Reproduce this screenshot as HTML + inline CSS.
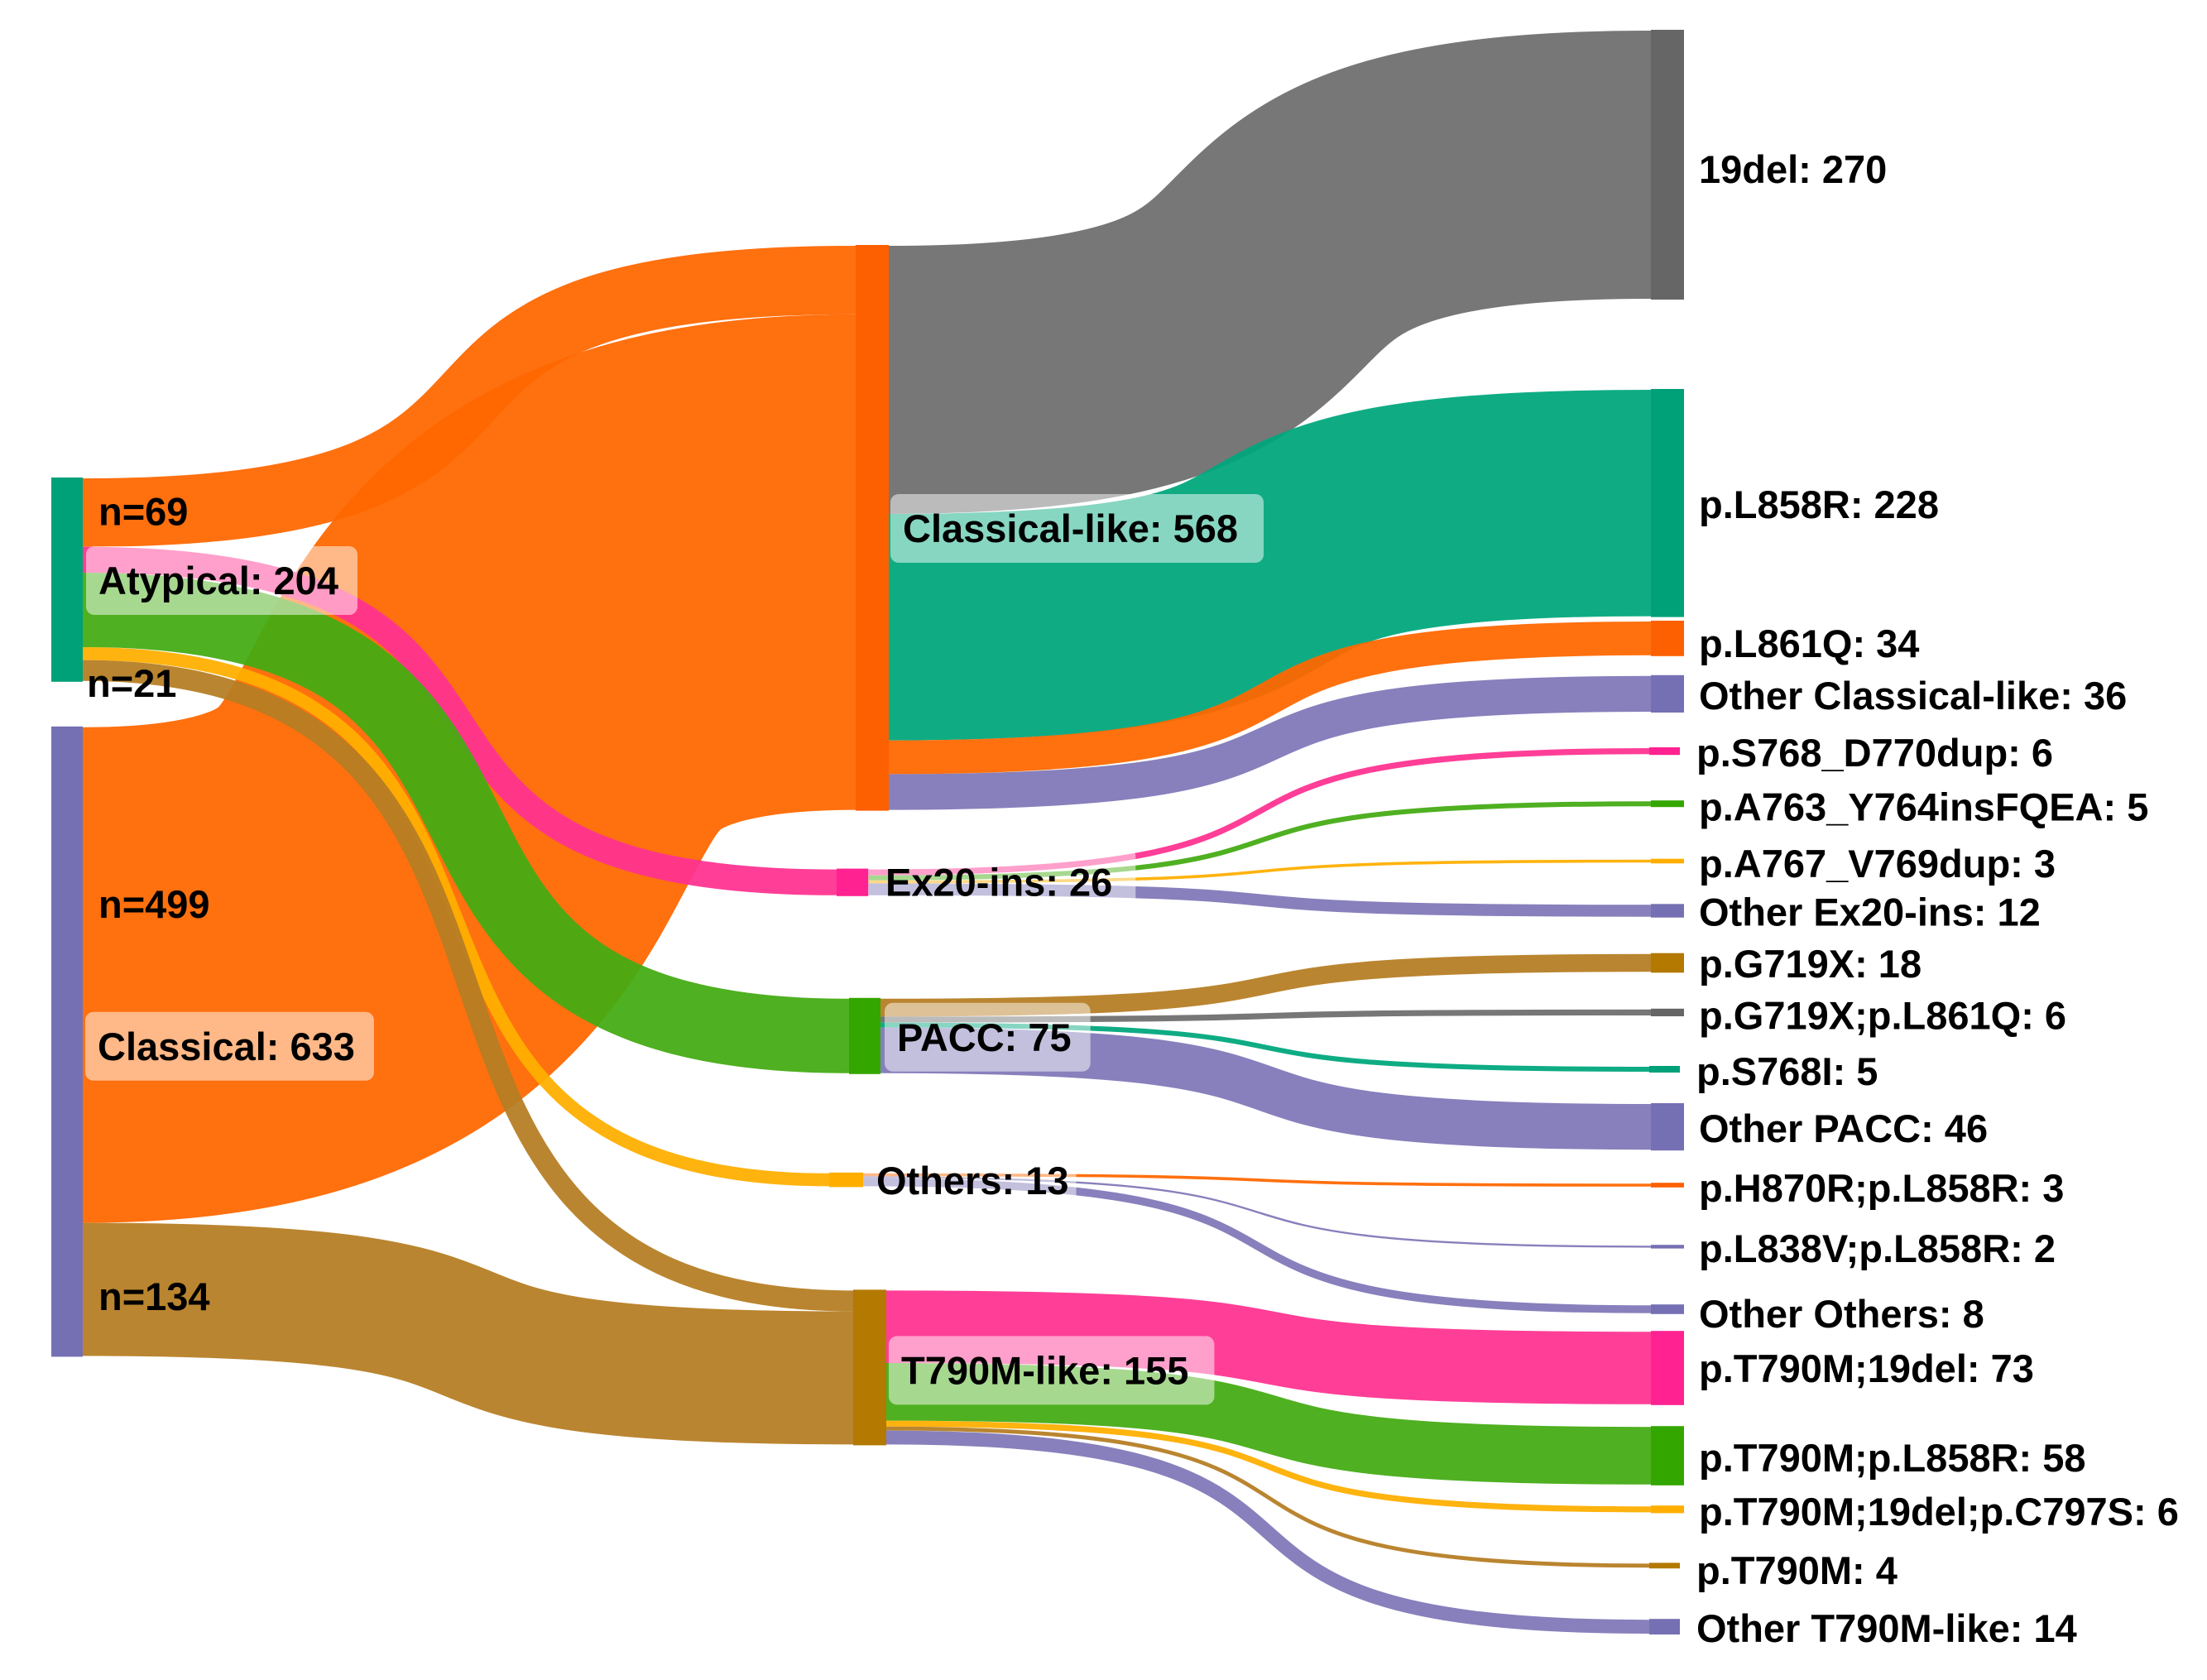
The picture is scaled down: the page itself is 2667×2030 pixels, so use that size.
<!DOCTYPE html>
<html>
<head>
<meta charset="utf-8">
<title>EGFR mutation Sankey</title>
<style>
html,body{margin:0;padding:0;background:#fff;}
svg{display:block;}
text{font-family:"Liberation Sans",sans-serif;font-size:47px;font-weight:bold;fill:#000;}
</style>
</head>
<body>
<svg id="chart" width="2667" height="2030" viewBox="0 0 2667 2030" xmlns="http://www.w3.org/2000/svg">
<g id="links"></g>
<g id="nodes"></g>
<g id="labels"></g>
</svg>
<script>
// ---- data ----
const nodeNames = ['Atypical','Classical','Classical-like','Ex20-ins','PACC','Others','T790M-like','19del','p.L858R','p.L861Q','Other Classical-like','p.S768_D770dup','p.A763_Y764insFQEA','p.A767_V769dup','Other Ex20-ins','p.G719X','p.G719X;p.L861Q','p.S768I','Other PACC','p.H870R;p.L858R','p.L838V;p.L858R','Other Others','p.T790M;19del','p.T790M;p.L858R','p.T790M;19del;p.C797S','p.T790M','Other T790M-like'];
const nodeValues = [204,633,568,26,75,13,155,270,228,34,36,6,5,3,12,18,6,5,46,3,2,8,73,58,6,4,14];
const linkSources = ['Atypical','Classical','Atypical','Atypical','Atypical','Atypical','Classical','Classical-like','Classical-like','Classical-like','Classical-like','Ex20-ins','Ex20-ins','Ex20-ins','Ex20-ins','PACC','PACC','PACC','PACC','Others','Others','Others','T790M-like','T790M-like','T790M-like','T790M-like','T790M-like'];
const linkTargets = ['Classical-like','Classical-like','Ex20-ins','PACC','Others','T790M-like','T790M-like','19del','p.L858R','p.L861Q','Other Classical-like','p.S768_D770dup','p.A763_Y764insFQEA','p.A767_V769dup','Other Ex20-ins','p.G719X','p.G719X;p.L861Q','p.S768I','Other PACC','p.H870R;p.L858R','p.L838V;p.L858R','Other Others','p.T790M;19del','p.T790M;p.L858R','p.T790M;19del;p.C797S','p.T790M','Other T790M-like'];
const linkValues = [69,499,26,75,13,21,134,270,228,34,36,6,5,3,12,18,6,5,46,3,2,8,73,58,6,4,14];

// ---- layout and style (separate from the data) ----
const PX_PER_VALUE = 1.2;
const NODE_PAD = 2;
const LINK_OPACITY = 0.94;
const CONTROL_REACH = 0.72;
const ORANGE='#fd6000',PINK='#ff2290',GREEN='#33a600',YELLOW='#ffae00',BROWN='#b37900',PURPLE='#7570b3',TEAL='#00a078',GRAY='#666666';
const nodeColors = [TEAL,PURPLE,ORANGE,PINK,GREEN,YELLOW,BROWN,GRAY,TEAL,ORANGE,PURPLE,PINK,GREEN,YELLOW,PURPLE,BROWN,GRAY,TEAL,PURPLE,ORANGE,PURPLE,PURPLE,PINK,GREEN,YELLOW,BROWN,PURPLE];
const linkTint = {};
linkTint[ORANGE]='#ff6700';
linkTint[PINK]='#ff3291';
linkTint[GREEN]='#44ab13';
linkTint[YELLOW]='#ffae00';
linkTint[BROWN]='#b67d23';
linkTint[PURPLE]='#8078b8';
linkTint[TEAL]='#00a77c';
linkTint[GRAY]='#6e6e6e';
const nodeLeft = [62,62,1034,1011,1026,1002,1031,1995,1995,1995,1995,1993,1995,1995,1995,1995,1995,1993,1995,1995,1995,1995,1995,1995,1995,1993,1993];
const nodeWidth = [38,38,40,38.5,38,41,40,40,40,40,40,37,40,40,40,40,40,37,40,40,40,40,40,40,40,37,37];
const nodeColumnStart = [true,false,true,false,false,false,false,true,false,false,false,false,false,false,false,false,false,false,false,false,false,false,false,false,false,false,false];
const nodeGapAbove = [577,54,296,70,123,119,124,36,108,4.4,23,42,55,62.5,49,43,43.5,60,37,39,69.4,67.6,20.4,25.4,24.4,60,61];
const labelLeft = [119,118,1091,1070,1084,1059,1089,2053,2053,2053,2053,2050,2053,2053,2053,2053,2053,2050,2053,2053,2053,2053,2053,2053,2053,2050,2050];
const labelDrop = [141,403,359,33,64,26,114,185,156,44,41,23,24.5,22.5,26,29.4,24.5,23,47,23,21,28,62,55,24,25.5,28];
const labelBoxExtra = [38,38,46,49,38,25,46];
const labelBoxInset = [15,15,15,21,15,16,15];
const countLabelLink = [0,5,1,6];
const countLabelLeft = [119,105,119,119];
const countLabelDrop = [15,32,-69,25];

const SVG_NS = 'http://www.w3.org/2000/svg';
const linksGroup = document.getElementById('links');
const nodesGroup = document.getElementById('nodes');
const labelsGroup = document.getElementById('labels');

function slug(s){ return s.toLowerCase().replace(/[^a-z0-9]+/g,'-').replace(/^-|-$/g,''); }
function valueToPx(v){ return v * PX_PER_VALUE; }
function nodeHeight(i){ return valueToPx(nodeValues[i]) + NODE_PAD; }

// Node tops stack down each column from their value-driven heights.
const nodeTop = [];
nodeNames.forEach(function(_, i){
  nodeTop[i] = nodeColumnStart[i] ? nodeGapAbove[i] : nodeTop[i-1] + nodeHeight(i-1) + nodeGapAbove[i];
});

// Links stack inside their source and target nodes, in array order.
const sourceCursor = nodeNames.map(function(_, i){ return nodeTop[i] + NODE_PAD/2; });
const targetCursor = nodeNames.map(function(_, i){ return nodeTop[i] + NODE_PAD/2; });
const linkCenterStart = [];

linkValues.forEach(function(v, i){
  const s = nodeNames.indexOf(linkSources[i]);
  const t = nodeNames.indexOf(linkTargets[i]);
  const w = valueToPx(v);
  const x0 = nodeLeft[s] + nodeWidth[s];
  const x1 = nodeLeft[t];
  const y0 = sourceCursor[s] + w/2;
  const y1 = targetCursor[t] + w/2;
  sourceCursor[s] += w;
  targetCursor[t] += w;
  linkCenterStart[i] = y0;
  const c1 = x0 + (x1 - x0) * CONTROL_REACH;
  const c2 = x1 - (x1 - x0) * CONTROL_REACH;
  const p = document.createElementNS(SVG_NS,'path');
  p.setAttribute('d','M'+x0+','+y0+'C'+c1+','+y0+' '+c2+','+y1+' '+x1+','+y1);
  p.setAttribute('fill','none');
  p.setAttribute('stroke',linkTint[nodeColors[t]]);
  p.setAttribute('stroke-opacity',LINK_OPACITY);
  p.setAttribute('stroke-width',w);
  
  
  linksGroup.appendChild(p);
});

nodeNames.forEach(function(name, i){
  const r = document.createElementNS(SVG_NS,'rect');
  r.setAttribute('x',nodeLeft[i]);
  r.setAttribute('y',nodeTop[i]);
  r.setAttribute('width',nodeWidth[i]);
  r.setAttribute('height',nodeHeight(i));
  r.setAttribute('fill',nodeColors[i]);
  
  
  nodesGroup.appendChild(r);
});

// Link count labels ("n=69").
countLabelLink.forEach(function(li, i){
  const t = document.createElementNS(SVG_NS,'text');
  t.setAttribute('x',countLabelLeft[i]);
  t.setAttribute('y',linkCenterStart[li] + countLabelDrop[i]);
  t.textContent = 'n=' + linkValues[li];
  
  
  labelsGroup.appendChild(t);
});

// Node labels, with translucent rounded boxes on the first two columns.
nodeNames.forEach(function(name, i){
  const baseline = nodeTop[i] + labelDrop[i];
  const t = document.createElementNS(SVG_NS,'text');
  t.setAttribute('x',labelLeft[i]);
  t.setAttribute('y',baseline);
  t.textContent = name + ': ' + nodeValues[i];
  
  
  labelsGroup.appendChild(t);
  if (i < labelBoxExtra.length) {
    const b = document.createElementNS(SVG_NS,'rect');
    b.setAttribute('x',labelLeft[i] - labelBoxInset[i]);
    b.setAttribute('y',baseline - 58);
    b.setAttribute('width',t.getComputedTextLength() + labelBoxExtra[i]);
    b.setAttribute('height',83);
    b.setAttribute('rx',10);
    b.setAttribute('fill','#ffffff');
    b.setAttribute('fill-opacity',0.5);
    
    
    labelsGroup.insertBefore(b,t);
  }
});
</script>
</body>
</html>
